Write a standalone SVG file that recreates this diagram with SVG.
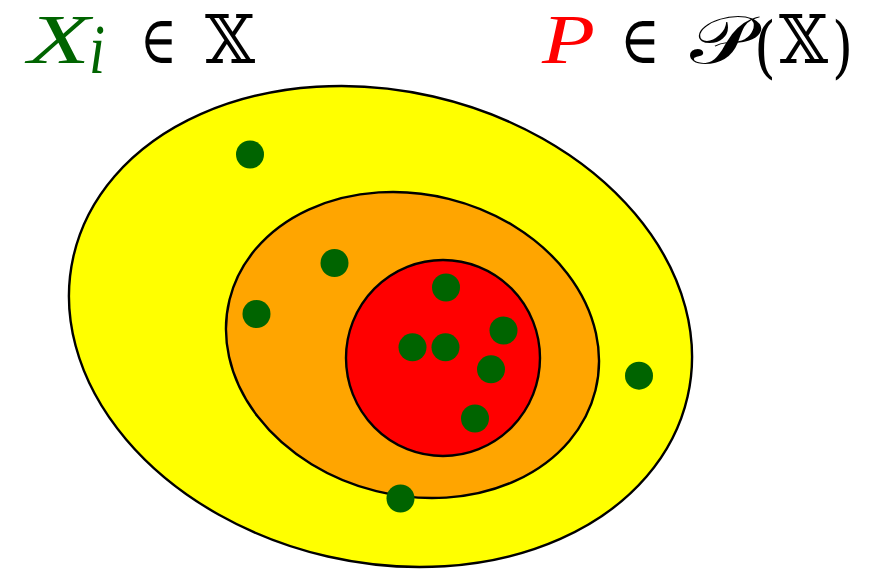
<svg xmlns="http://www.w3.org/2000/svg" width="883" height="570" viewBox="0 0 883 570">
<style>
.reg{stroke:#000;stroke-width:2.4}
.dot{fill:#006400}
.m{font-family:"DejaVu Serif","Liberation Serif",serif;font-size:67px}
.it{font-family:"Liberation Serif","DejaVu Serif",serif;font-style:italic;font-size:70px}
</style>
<rect width="883" height="570" fill="#fff"/>
<g id="outer"><ellipse class="reg" cx="380.5" cy="326.5" rx="315" ry="236" transform="rotate(12.9 380.5 326.5)" fill="#ffff00"/></g>
<g id="middle"><ellipse class="reg" cx="412.5" cy="345" rx="188.5" ry="150.6" transform="rotate(13.9 412.5 345)" fill="#ffa500"/></g>
<g id="inner"><ellipse class="reg" cx="443" cy="358" rx="97" ry="98" fill="#ff0000"/></g>
<g id="points">
<circle class="dot" cx="250" cy="154.5" r="14"/>
<circle class="dot" cx="334.5" cy="263" r="14"/>
<circle class="dot" cx="256.5" cy="314" r="14"/>
<circle class="dot" cx="446" cy="287.5" r="14"/>
<circle class="dot" cx="503.5" cy="330.5" r="14"/>
<circle class="dot" cx="412.5" cy="347.3" r="14"/>
<circle class="dot" cx="445.5" cy="347.3" r="14"/>
<circle class="dot" cx="491" cy="369.3" r="14"/>
<circle class="dot" cx="475" cy="418.5" r="14"/>
<circle class="dot" cx="639" cy="375.7" r="14"/>
<circle class="dot" cx="400.5" cy="498.5" r="14"/>
</g>
<g id="label-left">
<text class="it" x="28" y="63" fill="#006400" textLength="62" lengthAdjust="spacingAndGlyphs">X</text>
<text class="it" x="89" y="73" fill="#006400" font-size="48" textLength="16" lengthAdjust="spacingAndGlyphs">i</text>
<text class="m" x="140" y="63" textLength="37" lengthAdjust="spacingAndGlyphs">∈</text>
<text class="m" x="205" y="63" textLength="50" lengthAdjust="spacingAndGlyphs">𝕏</text>
</g>
<g id="label-right">
<text class="it" x="542" y="63" fill="#ff0000" textLength="53" lengthAdjust="spacingAndGlyphs">P</text>
<text class="m" x="620" y="63" textLength="40" lengthAdjust="spacingAndGlyphs">∈</text>
<text class="m" x="690" y="63" font-size="60" textLength="62" lengthAdjust="spacingAndGlyphs">𝒫</text>
<text class="m" x="754" y="70" font-size="75" textLength="22" lengthAdjust="spacingAndGlyphs">(</text>
<text class="m" x="779" y="63" textLength="49" lengthAdjust="spacingAndGlyphs">𝕏</text>
<text class="m" x="832" y="70" font-size="75" textLength="21" lengthAdjust="spacingAndGlyphs">)</text>
</g>
</svg>
